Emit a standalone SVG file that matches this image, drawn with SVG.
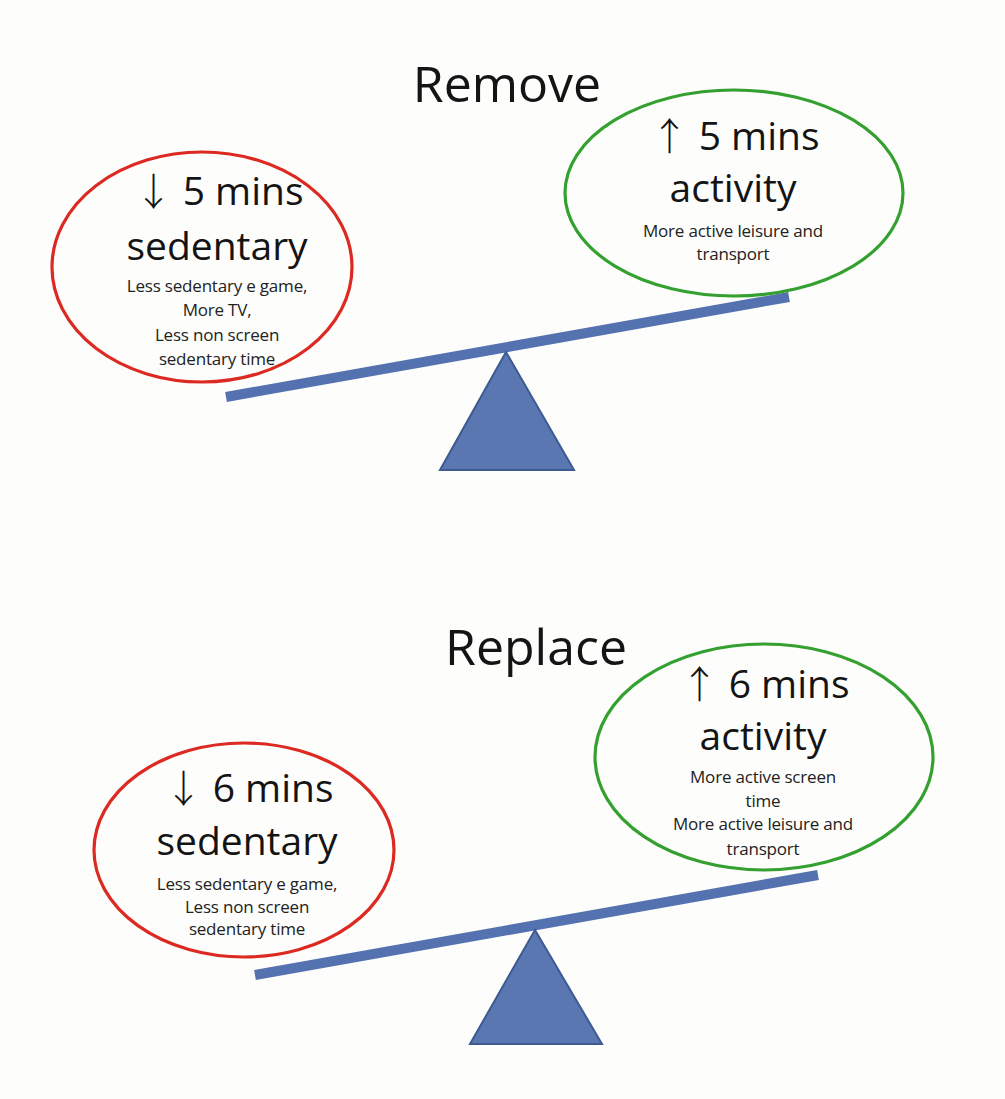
<svg xmlns="http://www.w3.org/2000/svg" width="1005" height="1099" viewBox="0 0 1005 1099">
<style>
  .bg{fill:#fdfdfb}
  .red{fill:none;stroke:#dc2a22;stroke-width:3.2}
  .green{fill:none;stroke:#34a030;stroke-width:3.2}
  .beam{stroke:#5472b0;stroke-width:10;stroke-linecap:butt}
  .fulcrum{fill:#5b77b2;stroke:#3d5a91;stroke-width:2;stroke-linejoin:miter}
  text{font-family:"Open Sans","Liberation Sans",sans-serif;fill:#141414;text-anchor:middle}
  .title{font-size:50px}
  .big{font-size:39px}
  .arr{font-family:"Noto Sans CJK SC","DejaVu Sans",sans-serif;font-size:38px;font-weight:300}
  .small{font-size:17px;fill:#222;letter-spacing:-0.2px}
</style>
<rect class="bg" x="0" y="0" width="1005" height="1099"/>

<g id="title-remove"><text class="title" x="507" y="102">Remove</text></g>
<g id="title-replace"><text class="title" x="536" y="665">Replace</text></g>

<g id="connectors">
  <line class="beam" x1="226" y1="397" x2="789" y2="297"/>
  <line class="beam" x1="255" y1="975" x2="818" y2="875"/>
</g>

<g id="fulcrum-top"><polygon class="fulcrum" points="506,352 440,470 574,470"/></g>
<g id="fulcrum-bottom"><polygon class="fulcrum" points="535,930 470,1044 602,1044"/></g>

<g id="remove-sedentary">
  <ellipse class="red" cx="202" cy="267" rx="150" ry="115"/>
  <text class="big" x="219" y="205"><tspan class="arr">↓</tspan> 5 mins</text>
  <text class="big" x="217" y="260">sedentary</text>
  <text class="small" x="217" y="292">Less sedentary e game,</text>
  <text class="small" x="217" y="316">More TV,</text>
  <text class="small" x="217" y="341">Less non screen</text>
  <text class="small" x="217" y="365">sedentary time</text>
</g>

<g id="remove-activity">
  <ellipse class="green" cx="734" cy="193" rx="169" ry="103"/>
  <text class="big" x="735" y="150"><tspan class="arr">↑</tspan> 5 mins</text>
  <text class="big" x="733" y="202">activity</text>
  <text class="small" x="733" y="237">More active leisure and</text>
  <text class="small" x="733" y="260">transport</text>
</g>

<g id="replace-sedentary">
  <ellipse class="red" cx="244" cy="850" rx="150" ry="107"/>
  <text class="big" x="249" y="802"><tspan class="arr">↓</tspan> 6 mins</text>
  <text class="big" x="247" y="855">sedentary</text>
  <text class="small" x="247" y="890">Less sedentary e game,</text>
  <text class="small" x="247" y="913">Less non screen</text>
  <text class="small" x="247" y="935">sedentary time</text>
</g>

<g id="replace-activity">
  <ellipse class="green" cx="764" cy="757" rx="169" ry="113"/>
  <text class="big" x="765" y="698"><tspan class="arr">↑</tspan> 6 mins</text>
  <text class="big" x="763" y="750">activity</text>
  <text class="small" x="763" y="783">More active screen</text>
  <text class="small" x="763" y="807">time</text>
  <text class="small" x="763" y="830">More active leisure and</text>
  <text class="small" x="763" y="855">transport</text>
</g>
</svg>
